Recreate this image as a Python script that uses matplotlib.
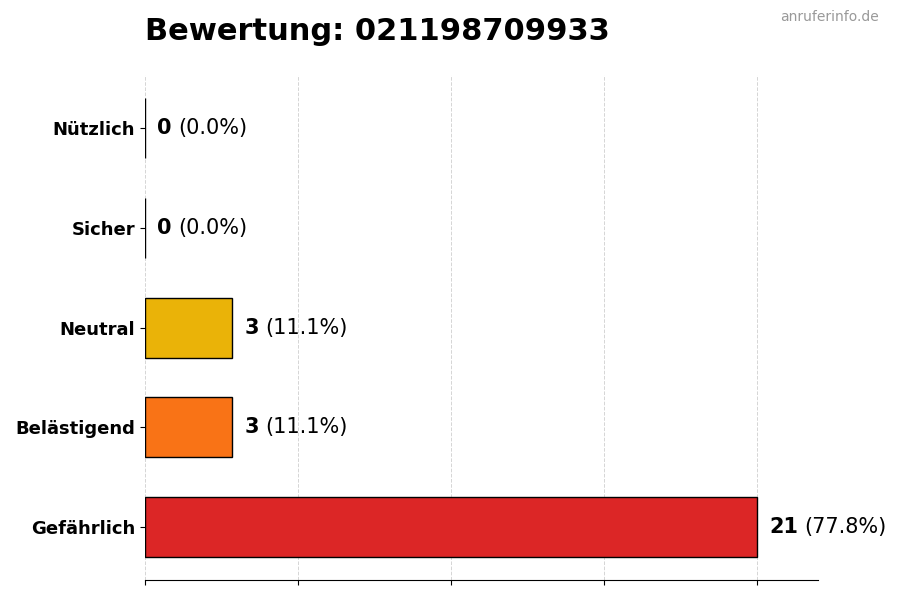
import matplotlib
matplotlib.use('Agg')
import matplotlib.pyplot as plt

# data, bottom to top
categories = ['Gefährlich', 'Belästigend', 'Neutral', 'Sicher', 'Nützlich']
counts = [21, 3, 3, 0, 0]
colors = ['#dc2626', '#f97316', '#eab308', '#22c55e', '#16a34a']
phone = '021198709933'

total = sum(counts)

fig = plt.figure(figsize=(9, 6), dpi=100)
ax = fig.add_axes([0.161, 0.033, 0.748, 0.842])

ypos = list(range(len(categories)))
ax.barh(ypos, counts, height=0.6, color=colors, edgecolor='black', linewidth=1, zorder=3)

ax.set_xlim(0, max(counts) * 1.1)
ax.set_xticks([max(counts) * i / 4 for i in range(5)])
ax.set_xticklabels([])
ax.set_yticks(ypos)
ax.set_yticklabels(categories, fontsize=13, fontweight='bold')
ax.grid(axis='x', linestyle='--', color='#d5d5d5', linewidth=0.7, zorder=0)

for side in ['top', 'right', 'left']:
    ax.spines[side].set_visible(False)

for y, c in zip(ypos, counts):
    pct = c / total * 100 if total else 0
    t = ax.annotate(str(c), xy=(c, y), xytext=(9, 0), textcoords='offset points',
                    va='center', ha='left', fontsize=15, fontweight='bold')
    ax.annotate('(%.1f%%)' % pct, xy=(1, 0.5), xycoords=t, xytext=(4.5, 0),
                textcoords='offset points', va='center', ha='left', fontsize=15)

fig.text(0.161, 0.947, 'Bewertung: ' + phone, fontsize=22, fontweight='bold',
         ha='left', va='center')
fig.text(0.976, 0.971, 'anruferinfo.de', fontsize=10, color='#999999',
         ha='right', va='center')

fig.savefig('out.png', dpi=100)
plt.close(fig)
